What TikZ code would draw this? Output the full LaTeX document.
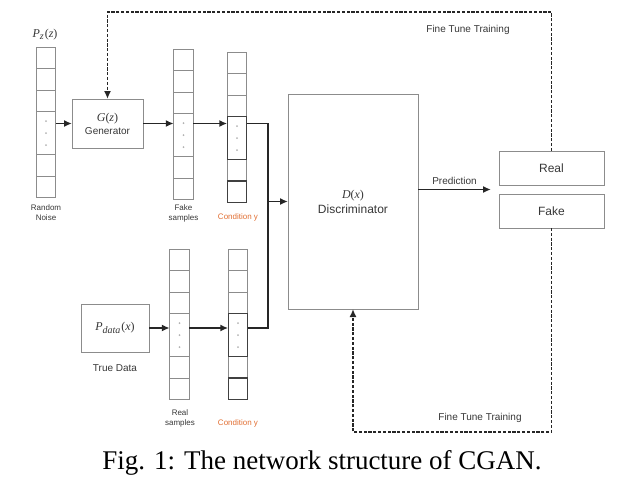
\documentclass[tikz,border=0pt]{standalone}
\usepackage{fontspec}
\setmainfont{Liberation Serif}
\setsansfont{Liberation Sans}
\usetikzlibrary{positioning,arrows.meta}

\definecolor{boxgray}{RGB}{140,140,140}
\definecolor{txtgray}{RGB}{55,55,55}
\definecolor{condorange}{RGB}{225,110,50}

\tikzset{
  cell/.style={draw=boxgray,line width=0.4pt,minimum width=9.75pt,minimum height=10.75pt,inner sep=0pt,outer sep=0pt},
  tallcell/.style={cell,minimum height=21.5pt},
  condcell/.style={draw=black!75,line width=0.55pt},
  block/.style={draw=boxgray,line width=0.5pt,inner sep=0pt,outer sep=0pt,align=center,text=txtgray,font=\sffamily\fontsize{5}{6.5}\selectfont},
  lbl/.style={text=txtgray,align=center,inner sep=0pt,font=\sffamily\fontsize{5}{6}\selectfont},
  smalllbl/.style={lbl,font=\sffamily\fontsize{4}{5}\selectfont},
  flow/.style={-{Latex[length=4pt,width=3.5pt]},line width=0.9pt,black!85},
  wire/.style={line width=0.9pt,black!85},
  tune/.style={-{Latex[length=4pt,width=3.5pt]},line width=0.8pt,dash pattern=on 1.6pt off 0.8pt,black!85},
}

% one column of samples: name, x, top y, look of the marked cells
\newcommand{\samplecol}[4]{%
  \node[cell,anchor=north] (#1-1) at (#2,#3) {};
  \node[cell,below=0pt of #1-1] (#1-2) {};
  \node[cell,below=0pt of #1-2] (#1-3) {};
  \node[tallcell,below=0pt of #1-3] (#1-4) {};
  \node[cell,below=0pt of #1-4] (#1-5) {};
  \node[cell,below=0pt of #1-5] (#1-6) {};
  \draw[#4] (#1-4.north west) rectangle (#1-4.south east);
  \draw[#4] (#1-6.north west) rectangle (#1-6.south east);
  \foreach \d in {-6,0,6}
    \fill[black!30] ([yshift=\d pt]#1-4.center) circle (0.5pt);
}
% italic serif letters for the formulas
\newcommand{\formvar}[1]{{\rmfamily\itshape #1}}

\begin{document}
\begin{tikzpicture}[x=0.5pt,y=-0.5pt]
  \useasboundingbox (0,0) rectangle (644,483);

  % generator branch
  \samplecol{n}{46}{47}{draw=none}
  \node[lbl,font=\rmfamily\fontsize{6}{7}\selectfont] (pz) at (45,35) {\formvar{P}\textsubscript{\formvar{z}}(\formvar{z})};
  \node[smalllbl] (noiselbl) at (46,213) {Random\\Noise};
  \node[block,minimum width=35.5pt,minimum height=24.5pt] (gen) at (107.5,123.5) {{\rmfamily\fontsize{6}{7}\selectfont\formvar{G}(\formvar{z})}\\Generator};
  \samplecol{f}{183.5}{49}{draw=none}
  \node[smalllbl] (fakelbl) at (183.5,213) {Fake\\samples};
  \samplecol{c1}{237}{52}{condcell}
  \node[smalllbl,text=condorange] (cond1lbl) at (238,217) {Condition y};

  % real data branch
  \node[block,minimum width=34pt,minimum height=24pt,font=\rmfamily\fontsize{6}{7}\selectfont] (true) at (115,328) {\formvar{P}\textsubscript{\formvar{data}}(\formvar{x})};
  \node[lbl] (truelbl) at (115,368) {True Data};
  \samplecol{r}{179.5}{249}{draw=none}
  \node[smalllbl] (reallbl) at (180,418) {Real\\samples};
  \samplecol{c2}{238}{249}{condcell}
  \node[smalllbl,text=condorange] (cond2lbl) at (238,423) {Condition y};

  % discriminator and outputs
  \node[block,minimum width=65pt,minimum height=107.5pt,font=\sffamily\fontsize{6}{7.5}\selectfont] (disc) at (353,201.5) {{\rmfamily\formvar{D}(\formvar{x})}\\Discriminator};
  \node[block,minimum width=52.5pt,minimum height=17pt,font=\sffamily\fontsize{6}{7}\selectfont] (real) at (551.5,168) {Real};
  \node[block,minimum width=52.5pt,minimum height=17pt,font=\sffamily\fontsize{6}{7}\selectfont] (fake) at (551.5,211) {Fake};

  \coordinate (junc) at (268,201.5);
  \coordinate (pred) at (491,189.5);
  \coordinate (toprail) at (0,12);
  \coordinate (botrail) at (0,432);

  % data flow
  \draw[flow] (n-4.east |- gen.west) -- (gen.west);
  \draw[flow] (gen.east) -- (f-4.west |- gen.east);
  \draw[flow] (f-4.east |- gen.east) -- (c1-4.west |- gen.east);
  \draw[flow] (true.east) -- (r-4.west |- true.east);
  \draw[flow] (r-4.east |- true.east) -- (c2-4.west |- true.east);
  \draw[wire] (c1-4.east |- gen.east) -| (junc);
  \draw[wire] (c2-4.east |- true.east) -| (junc);
  \draw[flow] (junc) -- (disc.west);
  \draw[flow] (disc.east |- pred) -- node[lbl,above=2pt] (predlbl) {Prediction} (pred);

  % fine tune feedback
  \draw[tune] (real.north) -- (real.north |- toprail) -| (gen.north);
  \draw[tune] (fake.south) -- (fake.south |- botrail) -| (disc.south);
  \node[lbl] (tunetop) at (468,30) {Fine Tune Training};
  \node[lbl] (tunebot) at (480,418) {Fine Tune Training};

  \node[font=\fontsize{13.5}{16}\selectfont] (caption) at (322,463) {Fig. 1: The network structure of CGAN.};
\end{tikzpicture}
\end{document}
